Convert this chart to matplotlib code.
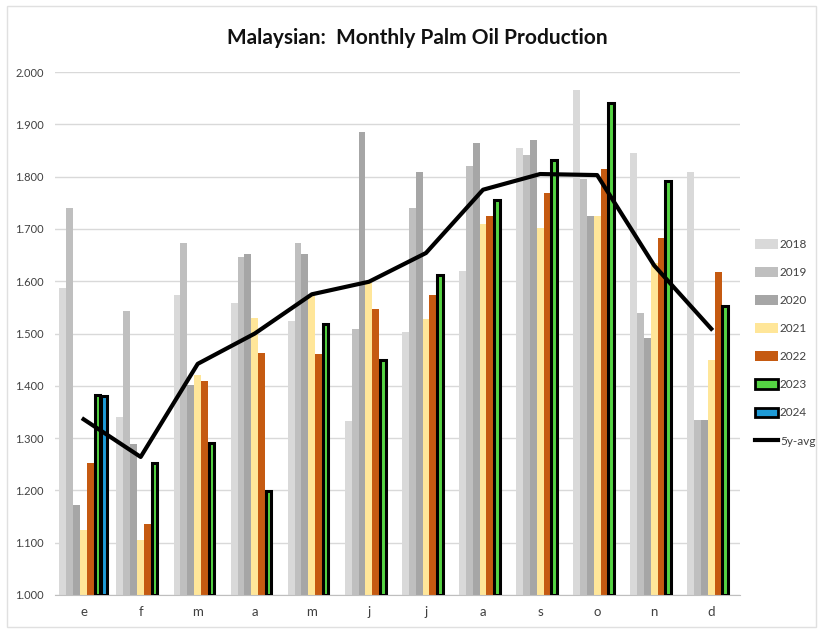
import numpy as np
import matplotlib
matplotlib.use("Agg")
import matplotlib.pyplot as plt
from matplotlib.lines import Line2D
from matplotlib.patches import Patch, Rectangle

plt.rcParams['font.family'] = ['Lato', 'DejaVu Sans']

months = ['e', 'f', 'm', 'a', 'm', 'j', 'j', 'a', 's', 'o', 'n', 'd']
years = ['2018', '2019', '2020', '2021', '2022', '2023', '2024']

# production, million tonnes
p2018 = [1.587, 1.341, 1.573, 1.558, 1.524, 1.332, 1.502, 1.620, 1.854, 1.966, 1.846, 1.808]
p2019 = [1.740, 1.543, 1.673, 1.647, 1.673, 1.509, 1.741, 1.821, 1.842, 1.795, 1.539, 1.334]
p2020 = [1.173, 1.288, 1.401, 1.653, 1.652, 1.886, 1.808, 1.864, 1.870, 1.724, 1.491, 1.334]
p2021 = [1.125, 1.106, 1.421, 1.529, 1.572, 1.596, 1.527, 1.710, 1.702, 1.724, 1.634, 1.450]
p2022 = [1.252, 1.136, 1.410, 1.462, 1.460, 1.546, 1.573, 1.725, 1.769, 1.815, 1.683, 1.618]
p2023 = [1.382, 1.252, 1.291, 1.199, 1.519, 1.450, 1.612, 1.755, 1.831, 1.940, 1.791, 1.553]
p2024 = [1.380]
avg5y = [1.336, 1.264, 1.442, 1.500, 1.575, 1.599, 1.654, 1.775, 1.805, 1.803, 1.630, 1.509]

series = [p2018, p2019, p2020, p2021, p2022, p2023, p2024]
colors = ['#D9D9D9', '#BFBFBF', '#A6A6A6', '#FFE699', '#C55A11', '#55D443', '#1E9BD7']

fig = plt.figure(figsize=(8.22, 6.3), dpi=100)
ax = fig.add_axes([0.067, 0.0556, 0.833, 0.830])

x = np.arange(len(months))
w = 0.121
for i, (vals, col) in enumerate(zip(series, colors)):
    xi = x[:len(vals)] + (i - 3) * w
    if years[i] in ('2023', '2024'):
        ax.bar(xi, np.array(vals) - 1.0, w * 0.82, bottom=1.0, color=col,
               edgecolor='black', linewidth=2.2, zorder=3)
    else:
        ax.bar(xi, np.array(vals) - 1.0, w, bottom=1.0, color=col,
               linewidth=0, zorder=2)

ax.plot(x, avg5y, color='black', linewidth=3, zorder=4)

ax.set_ylim(1.0, 2.0)
ax.set_xlim(-0.5, 11.5)
ax.set_yticks(np.arange(1.0, 2.01, 0.1))
ax.set_yticklabels([f'{v:.3f}' for v in np.arange(1.0, 2.01, 0.1)], fontsize=8, color='#404040')
ax.set_xticks(x)
ax.set_xticklabels(months, fontsize=9.5, color='#404040')
ax.tick_params(length=0, pad=8)
ax.grid(axis='y', color='#D9D9D9', linewidth=1, zorder=0)
ax.set_axisbelow(True)
for s in ['top', 'right', 'left']:
    ax.spines[s].set_visible(False)
ax.spines['bottom'].set_color('#BFBFBF')

fig.text(0.508, 0.94, 'Malaysian:  Monthly Palm Oil Production', ha='center', va='center',
         fontsize=15, fontweight='bold', color='#111111')

handles = []
for yr, col in zip(years, colors):
    if yr in ('2023', '2024'):
        handles.append(Patch(facecolor=col, edgecolor='black', linewidth=2, label=yr))
    else:
        handles.append(Patch(facecolor=col, edgecolor='none', label=yr))
handles.append(Line2D([0], [0], color='black', linewidth=3, label='5y-avg'))
fig.legend(handles=handles, loc='upper left', bbox_to_anchor=(0.918, 0.621), frameon=False,
           fontsize=8.5, handlelength=2.0, handleheight=0.9, handletextpad=0.15,
           labelspacing=1.45, labelcolor='#404040', borderaxespad=0, borderpad=0)

fig.patches.append(Rectangle((0.008, 0.005), 0.985, 0.985, transform=fig.transFigure,
                             fill=False, edgecolor='#E0E0E0', linewidth=1))

fig.savefig('out.png', dpi=100)
